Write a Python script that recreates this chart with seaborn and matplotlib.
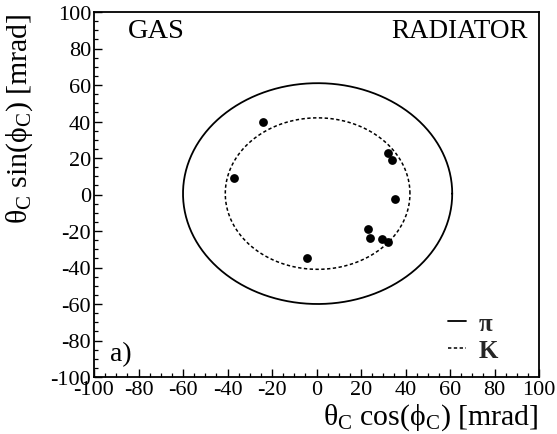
import numpy as np
import pandas as pd
import matplotlib
matplotlib.use("Agg")
import matplotlib.pyplot as plt
from matplotlib.ticker import MultipleLocator
import seaborn as sns

# Cherenkov ring hits (mrad)
hit_x = [-24.0, -37.3, 32.0, 33.9, 35.5, 23.0, 24.0, 29.6, 32.3, -4.2]
hit_y = [40.0, 9.1, 22.5, 18.8, -2.6, -18.7, -23.8, -24.2, -26.2, -34.6]

# expected ring radii for each particle hypothesis (mrad)
ring_names = ["π", "K"]
ring_radii = [60.5, 41.5]
ring_center = (0.5, 0.5)
ring_styles = ["-", (0, (2.2, 1.6))]
ring_widths = [1.3, 1.1]

sns.set_theme(style="white")
plt.rcParams["font.family"] = ["Liberation Serif", "DejaVu Serif"]
plt.rcParams["mathtext.fontset"] = "custom"
plt.rcParams["mathtext.rm"] = "Liberation Serif"
plt.rcParams["mathtext.default"] = "regular"
plt.rcParams["axes.unicode_minus"] = False

fig = plt.figure(figsize=(5.57, 4.35), dpi=100)
ax = fig.add_axes([94 / 557, 1 - 378 / 435, 445 / 557, 365 / 435])

phi = np.linspace(0, 2 * np.pi, 400)
for name, r, ls, lw in zip(ring_names, ring_radii, ring_styles, ring_widths):
    ring = pd.DataFrame({"x": ring_center[0] + r * np.cos(phi),
                         "y": ring_center[1] + r * np.sin(phi)})
    sns.lineplot(data=ring, x="x", y="y", sort=False, estimator=None,
                 color="black", linewidth=lw, linestyle=ls, label=name, ax=ax)

hits = pd.DataFrame({"x": hit_x, "y": hit_y})
sns.scatterplot(data=hits, x="x", y="y", color="black", s=40,
                edgecolor="black", linewidth=0, ax=ax, zorder=5)

ax.set_xlim(-100, 100)
ax.set_ylim(-100, 100)
ax.xaxis.set_major_locator(MultipleLocator(20))
ax.yaxis.set_major_locator(MultipleLocator(20))
ax.xaxis.set_minor_locator(MultipleLocator(5))
ax.yaxis.set_minor_locator(MultipleLocator(5))
ax.tick_params(which="both", direction="in", bottom=True, left=True,
               top=False, right=False, colors="black", labelsize=16, pad=2)
ax.tick_params(which="major", length=6, width=1.0)
ax.tick_params(which="minor", length=3, width=0.9)
for sp in ax.spines.values():
    sp.set_color("black")
    sp.set_linewidth(1.3)

ax.set_xlabel("$θ_C$ cos($ϕ_C$) [mrad]", fontsize=21.5, color="black")
ax.set_ylabel("$θ_C$ sin($ϕ_C$) [mrad]", fontsize=21.5, color="black")
ax.xaxis.set_label_coords(1.0, -0.127)
ax.xaxis.label.set_horizontalalignment("right")
ax.xaxis.label.set_verticalalignment("baseline")
ax.yaxis.set_label_coords(-0.168, 1.0)
ax.yaxis.label.set_horizontalalignment("right")
ax.yaxis.label.set_verticalalignment("center")

ax.text(0.077, 0.948, "GAS", transform=ax.transAxes, fontsize=20.5,
        ha="left", va="center", color="black")
ax.text(0.975, 0.948, "RADIATOR", transform=ax.transAxes, fontsize=19.5,
        ha="right", va="center", color="black")
ax.text(0.036, 0.063, "a)", transform=ax.transAxes, fontsize=20,
        ha="left", va="center", color="black")

leg = ax.legend(loc="lower right", frameon=False, handlelength=0.7,
                handletextpad=0.5, fontsize=18, labelspacing=0.15,
                bbox_to_anchor=(0.93, 0.015), borderaxespad=0)
for t in leg.get_texts():
    t.set_fontweight("bold")

fig.savefig("out.png", dpi=100)
